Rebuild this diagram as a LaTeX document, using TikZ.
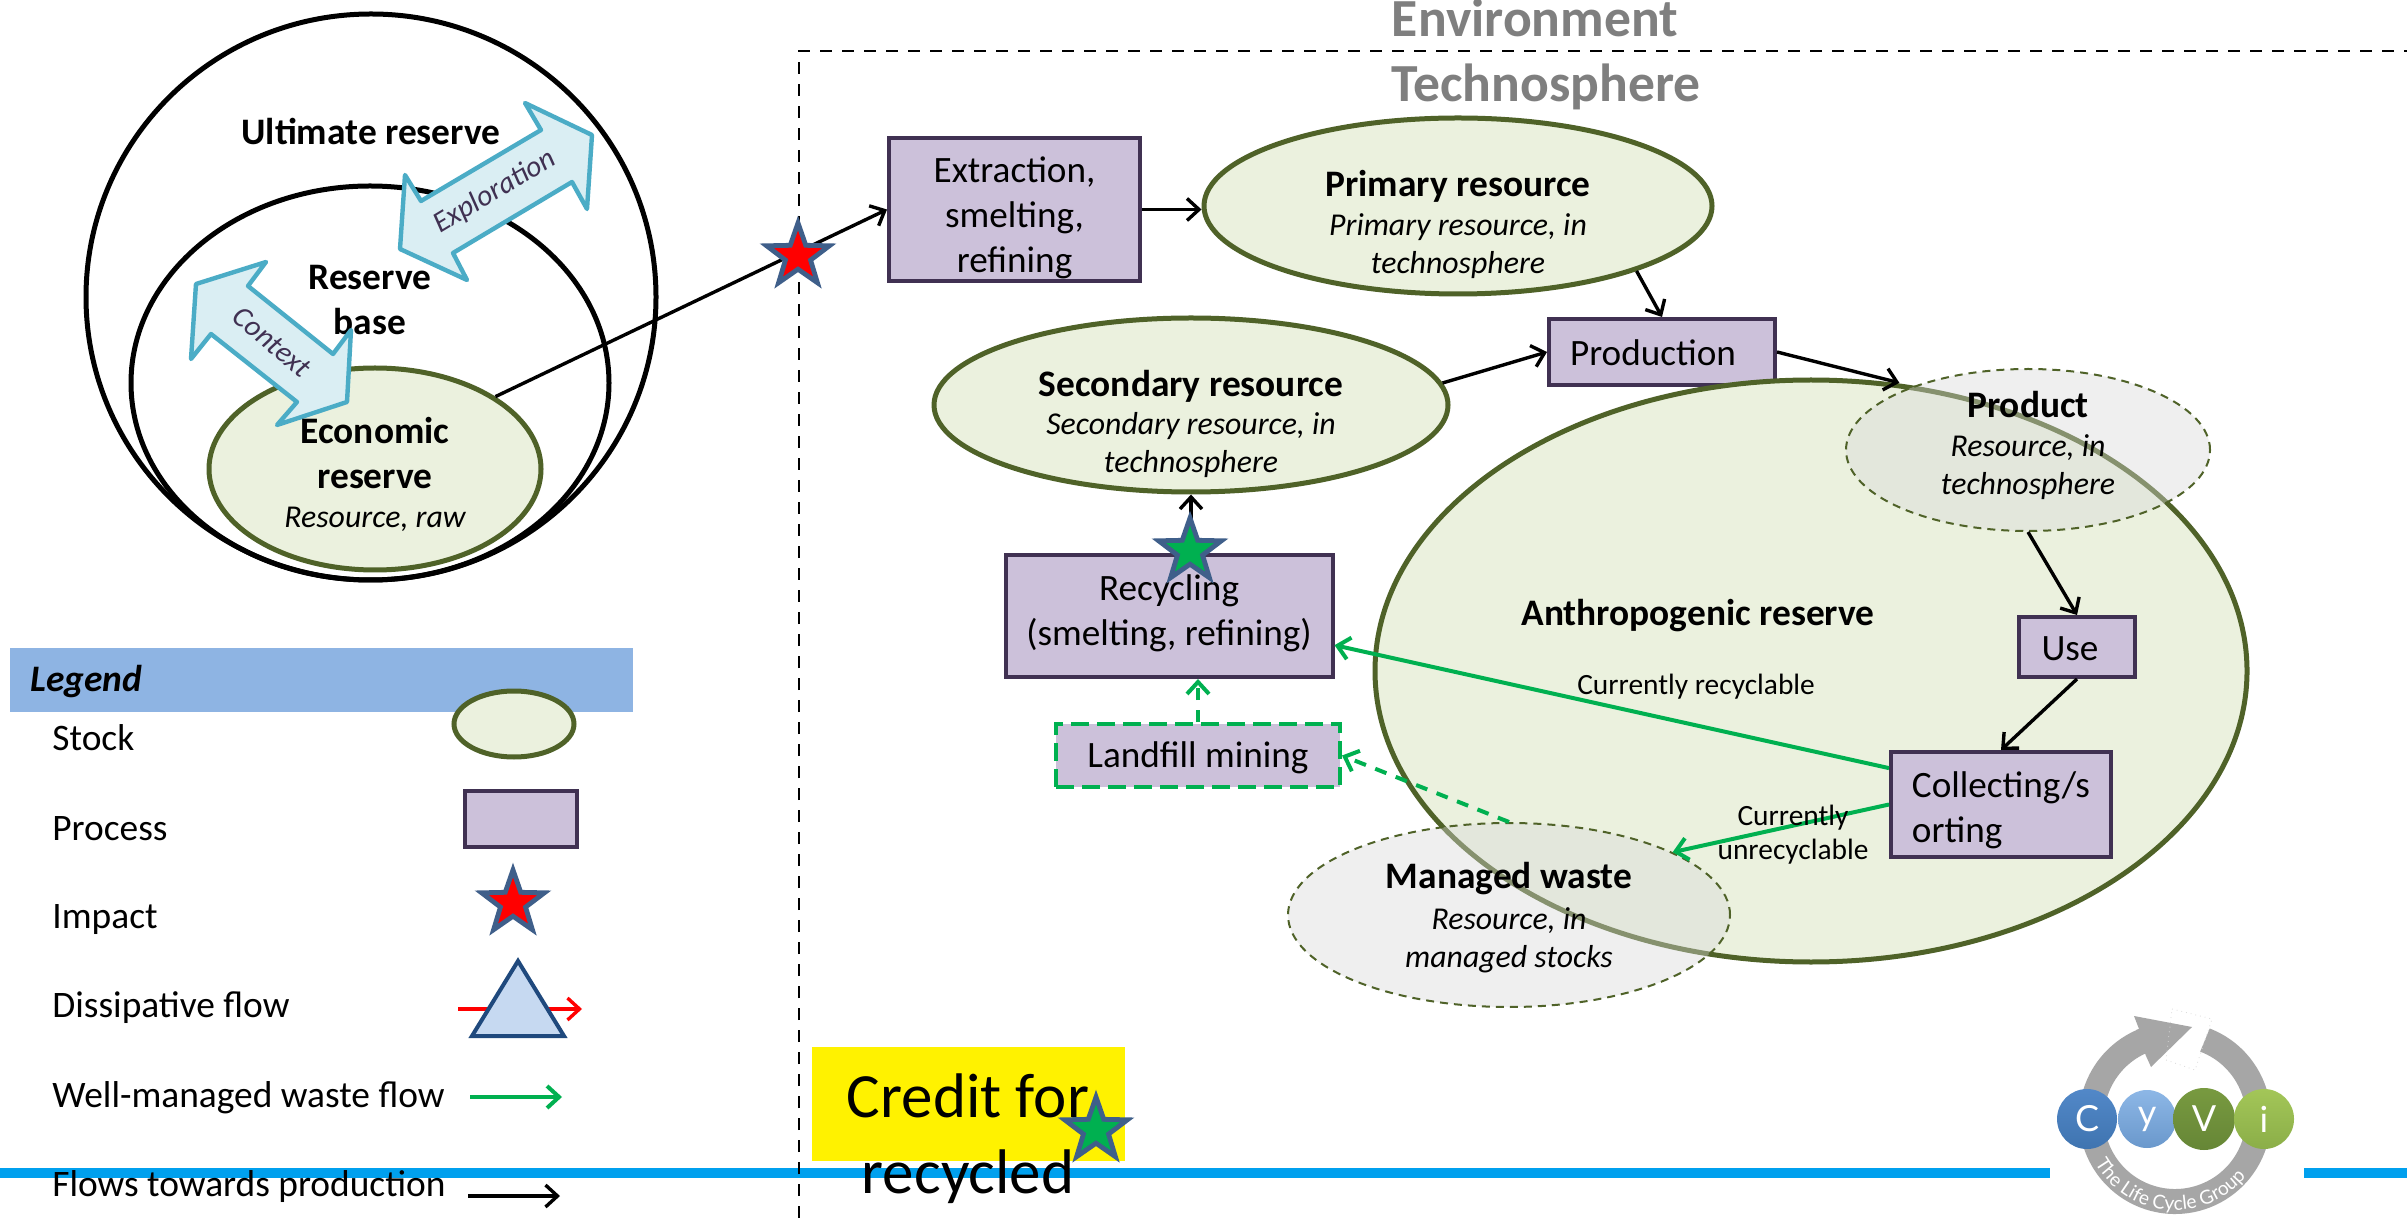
\documentclass[tikz,border=0pt]{standalone}
\usepackage{fontspec}
\setmainfont{Carlito}
\newfontfamily\logofont{Lato}
\usetikzlibrary{shapes.geometric,arrows.meta,decorations.text,calc}
\definecolor{stockfill}{HTML}{EBF1DE}
\definecolor{stockline}{HTML}{4F6228}
\definecolor{procfill}{HTML}{CCC1DA}
\definecolor{procline}{HTML}{403152}
\definecolor{arrowfill}{HTML}{DAEEF3}
\definecolor{arrowline}{HTML}{4BACC6}
\definecolor{starline}{HTML}{3F5F8A}
\definecolor{wastegreen}{HTML}{00B050}
\definecolor{barblue}{HTML}{00A0EE}
\definecolor{legendblue}{HTML}{8EB4E3}
\definecolor{trifill}{HTML}{C6D9F1}
\definecolor{triline}{HTML}{1F497D}
\definecolor{ringgray}{HTML}{A6A6A6}
\definecolor{titlegray}{HTML}{7F7F7F}
\definecolor{ballCa}{HTML}{5288C8}
\definecolor{ballCb}{HTML}{3F74B0}
\definecolor{ballYa}{HTML}{8DB7E6}
\definecolor{ballYb}{HTML}{6A98CC}
\definecolor{ballVa}{HTML}{789A40}
\definecolor{ballVb}{HTML}{668636}
\definecolor{ballIa}{HTML}{A3C658}
\definecolor{ballIb}{HTML}{8BAE48}
\tikzset{
  lbl/.style={inner sep=0pt,align=center},
  boldlbl/.style={lbl,font=\fontsize{18.7}{22.5}\selectfont\bfseries},
  itlbl/.style={lbl,font=\fontsize{15.9}{19}\selectfont\itshape},
  proclbl/.style={font=\fontsize{18.6}{22.5}\selectfont,align=center,inner sep=0pt},
  legtext/.style={anchor=west,inner sep=0pt,font=\fontsize{18.7}{22}\selectfont},
  ring/.style={ellipse,draw=black,line width=2.5pt,inner sep=0pt},
  stockell/.style={ellipse,draw=stockline,fill=stockfill,line width=2.5pt,inner sep=0pt},
  ghostell/.style={ellipse,draw=stockline,fill=black!15,fill opacity=.4,draw opacity=1,line width=1pt,dash pattern=on 4pt off 3pt,inner sep=0pt},
  procbox/.style={rectangle,draw=procline,fill=procfill,line width=2pt,proclbl},
  blackflow/.style={draw=black,line width=1.7pt,-{Straight Barb[length=6pt,width=11pt,line width=1.7pt]}},
  greenflow/.style={draw=wastegreen,line width=2pt,-{Straight Barb[length=6pt,width=11pt,line width=2pt]}},
  greendash/.style={greenflow,dash pattern=on 6pt off 5pt},
  redflow/.style={draw=red,line width=1.7pt,-{Straight Barb[length=6pt,width=11pt,line width=1.7pt]}},
  dblarrow/.style={draw=arrowline,fill=arrowfill,line width=2.2pt,line join=round},
  arrowlbl/.style={inner sep=0pt,text=procline,font=\fontsize{14.8}{16}\selectfont\itshape},
  border/.style={draw=black,line width=.9pt,dash pattern=on 6pt off 5pt},
  impactstar/.style={star,star points=5,star point ratio=2.5,draw=starline,line width=2.4pt,inner sep=0pt,minimum size=33pt,fill=#1},
  ballnode/.style={circle,inner sep=0pt,text=white,font=\logofont\fontsize{18}{20}\selectfont},
}
\begin{document}
\begin{tikzpicture}[x=.5pt,y=-.5pt]
\useasboundingbox (0,0) rectangle (2407,1218);
\fill[white] (0,0) rectangle (2407,1218);

% blue rule
\fill[barblue] (0,1168) rectangle (2050,1178);
\fill[barblue] (2304,1168) rectangle (2407,1178);

% system borders
\coordinate (bcorner) at (799,51);
\coordinate (bright) at (2407,51);
\coordinate (bbottom) at (799,1218);
\draw[border] (bbottom) -- (bcorner) -- (bright);
\node[inner sep=0pt,text=titlegray,font=\fontsize{26.8}{30}\selectfont\bfseries] (envt) at (1535,18) {Environment};
\node[inner sep=0pt,text=titlegray,font=\fontsize{26.8}{30}\selectfont\bfseries] (tech) at (1546,87) {Technosphere};

% nested reserves
\node[ring,minimum width=285pt,minimum height=283pt] (ult) at (371,297) {};
\node[ring,minimum width=239pt,minimum height=197pt] (base) at (370,383) {};
\node[stockell,minimum width=166pt,minimum height=101pt] (econ) at (375,469) {};
\node[boldlbl] (ultt) at (371,131) {Ultimate reserve};
\node[boldlbl] (baset) at (370,300) {Reserve\\base};

\draw[dblarrow] (525,103) -- (592,135) -- (587,209) -- (572,182) -- (453,253) -- (467,280) -- (400,249) -- (405,175) -- (421,201) -- (541,130) -- cycle;
\node[arrowlbl,rotate=31] (expl) at (495,192) {Exploration};
\draw[dblarrow] (266,262) -- (196,284) -- (191,359) -- (211,334) -- (297,402) -- (277,425) -- (347,402) -- (351,330) -- (333,354) -- (248,286) -- cycle;
\node[arrowlbl,rotate=-40] (ctx) at (272,342) {Context};

\node[boldlbl] (econt) at (375,453) {Economic\\reserve};
\node[itlbl] (econi) at (375,519) {Resource, raw};

% technosphere stocks and processes
\node[procbox,minimum width=125.5pt,minimum height=71.5pt] (ext) at (1014.5,209.5) {};
\node[proclbl] (extt) at (1014.5,218) {Extraction,\\smelting,\\refining};
\node[stockell,minimum width=254pt,minimum height=88pt] (prim) at (1458,206) {};
\node[boldlbl] (primb) at (1458,186) {Primary resource};
\node[itlbl] (primi) at (1458,246) {Primary resource, in\\technosphere};
\node[procbox,minimum width=113pt,minimum height=33pt] (prod) at (1662,352) {};
\node[proclbl] (prodt) at (1653,353) {Production};
\node[stockell,minimum width=257pt,minimum height=87pt] (sec) at (1191,405) {};
\node[boldlbl] (secb) at (1191,386) {Secondary resource};
\node[itlbl] (seci) at (1191,445) {Secondary resource, in\\technosphere};

\node[stockell,minimum width=436pt,minimum height=291pt] (anth) at (1811,671) {};
\node[boldlbl] (antht) at (1698,616) {Anthropogenic reserve};

\node[procbox,minimum width=163.5pt,minimum height=61pt] (rec) at (1169,616) {};
\node[proclbl] (rect) at (1169,613) {Recycling\\(smelting, refining)};
\node[rectangle,draw=wastegreen,fill=procfill,line width=2pt,dash pattern=on 9pt off 4pt,minimum width=142pt,minimum height=31.5pt,inner sep=0pt] (lf) at (1198,755.5) {};
\node[proclbl] (lft) at (1198,758) {Landfill mining};
\node[procbox,minimum width=58pt,minimum height=30pt] (use) at (2077,647) {};
\node[proclbl] (uset) at (2070,649) {Use};
\node[procbox,minimum width=110pt,minimum height=52.5pt] (col) at (2001,804.5) {};
\node[proclbl,align=left] (colt) at (2001,810) {Collecting/s\\orting};

\node[ghostell,minimum width=182pt,minimum height=81pt] (pdct) at (2028,450) {};
\node[boldlbl] (pdctb) at (2028,405) {Product};
\node[itlbl] (pdcti) at (2028,467) {Resource, in\\technosphere};
\node[ghostell,minimum width=221pt,minimum height=92pt] (man) at (1509,915) {};
\node[boldlbl] (manb) at (1509,879) {Managed waste};
\node[itlbl] (mani) at (1509,940) {Resource, in\\managed stocks};

% connectors
\draw[blackflow] (econ.31) -- (ext.west);
\draw[blackflow] (ext.east) -- (prim.west |- ext.east);
\draw[blackflow] (prim.-20) -- (prod.north);
\draw[blackflow,shorten >=7pt] (prod.east) -- (pdct.151);
\draw[blackflow] (sec.5) -- (prod.west);
\draw[blackflow] (pdct.south) -- (use.north);
\draw[blackflow] (use.south) -- (col.north);
\draw[blackflow] (sec.south |- rec.north) -- (sec.south);
\draw[greenflow] (col.162) -- (rec.-10);
\draw[greenflow] (col.west) -- (man.21);
\draw[greendash] (lf.north) -- (lf.north |- rec.south);
\draw[greendash] (man.north) -- (lf.east);

\node[font=\fontsize{14.7}{16}\selectfont,lbl] (currec) at (1696,687) {Currently recyclable};
\node[font=\fontsize{14.7}{17}\selectfont,lbl] (curun) at (1793,835) {Currently\\unrecyclable};

% impact stars
\node[impactstar=red] (simp) at (798,256) {};
\node[impactstar=wastegreen] (srec) at (1190,551) {};

% credit note
\node[rectangle,fill=yellow,minimum width=156.5pt,minimum height=57pt,inner sep=0pt] (credbg) at (968.5,1104) {};
\node[lbl,font=\fontsize{31.5}{38}\selectfont] (credt) at (968,1139) {Credit for\\recycled};
\node[impactstar=wastegreen] (scred) at (1096,1130) {};

% legend
\fill[legendblue] (10,648) rectangle (633,712);
\node[legtext,font=\fontsize{18.7}{22}\selectfont\bfseries\itshape] (legt) at (30,682) {Legend};
\node[legtext] (l1) at (52,738) {Stock};
\node[legtext] (l2) at (52,829) {Process};
\node[legtext] (l3) at (52,920) {Impact};
\node[legtext] (l4) at (52,1008) {Dissipative flow};
\node[legtext] (l5) at (52,1098) {Well-managed waste flow};
\node[legtext] (l6) at (52,1187) {Flows towards production};
\node[stockell,minimum width=60pt,minimum height=33pt] (ls) at (514,724) {};
\node[procbox,minimum width=56pt,minimum height=28pt] (lp) at (520.5,819) {};
\node[impactstar=red] (li) at (513,903) {};
\coordinate (lra) at (458,1009);
\coordinate (lrb) at (582,1009);
\draw[redflow] (lra) -- (lrb);
\draw[draw=triline,fill=trifill,line width=2pt,miter limit=10] (518,961) -- (472,1036) -- (564,1036) -- cycle;
\coordinate (lga) at (470,1097);
\coordinate (lgb) at (562,1097);
\draw[greenflow] (lga) -- (lgb);
\coordinate (lba) at (468,1196);
\coordinate (lbb) at (560,1196);
\draw[blackflow] (lba) -- (lbb);

% logo
\coordinate (lc) at (2175,1118);
\draw[ringgray,line width=12.5pt] ($(lc)+(-69:83.5)$) arc[start angle=-69,end angle=248,radius=83.5];
\fill[ringgray] (2134,1016) -- (2192,1027) -- (2151,1067) -- (2146,1056) -- (2136,1030) -- (2139,1029) -- cycle;
\draw[black!15,dotted,line width=.4pt] (2172,1009) -- (2212,1019) -- (2195,1070) -- (2166,1060) -- cycle;
\path[postaction={decorate,decoration={text along path,text align=center,text={|\logofont\fontsize{9.6}{11}\selectfont\color{white}|The Life Cycle Group}}}] ($(lc)+(-205:92)$) arc[start angle=-205,end angle=-325,radius=92];
\node[ballnode,minimum size=30pt,top color=ballCa,bottom color=ballCb] (bc) at (2087,1119) {C};
\node[ballnode,minimum size=29pt,top color=ballYa,bottom color=ballYb] (by) at (2147,1119) {y};
\node[ballnode,minimum size=31pt,top color=ballVa,bottom color=ballVb] (bv) at (2204,1119) {V};
\node[ballnode,minimum size=30pt,top color=ballIa,bottom color=ballIb] (bi) at (2264,1119) {i};
\end{tikzpicture}
\end{document}
